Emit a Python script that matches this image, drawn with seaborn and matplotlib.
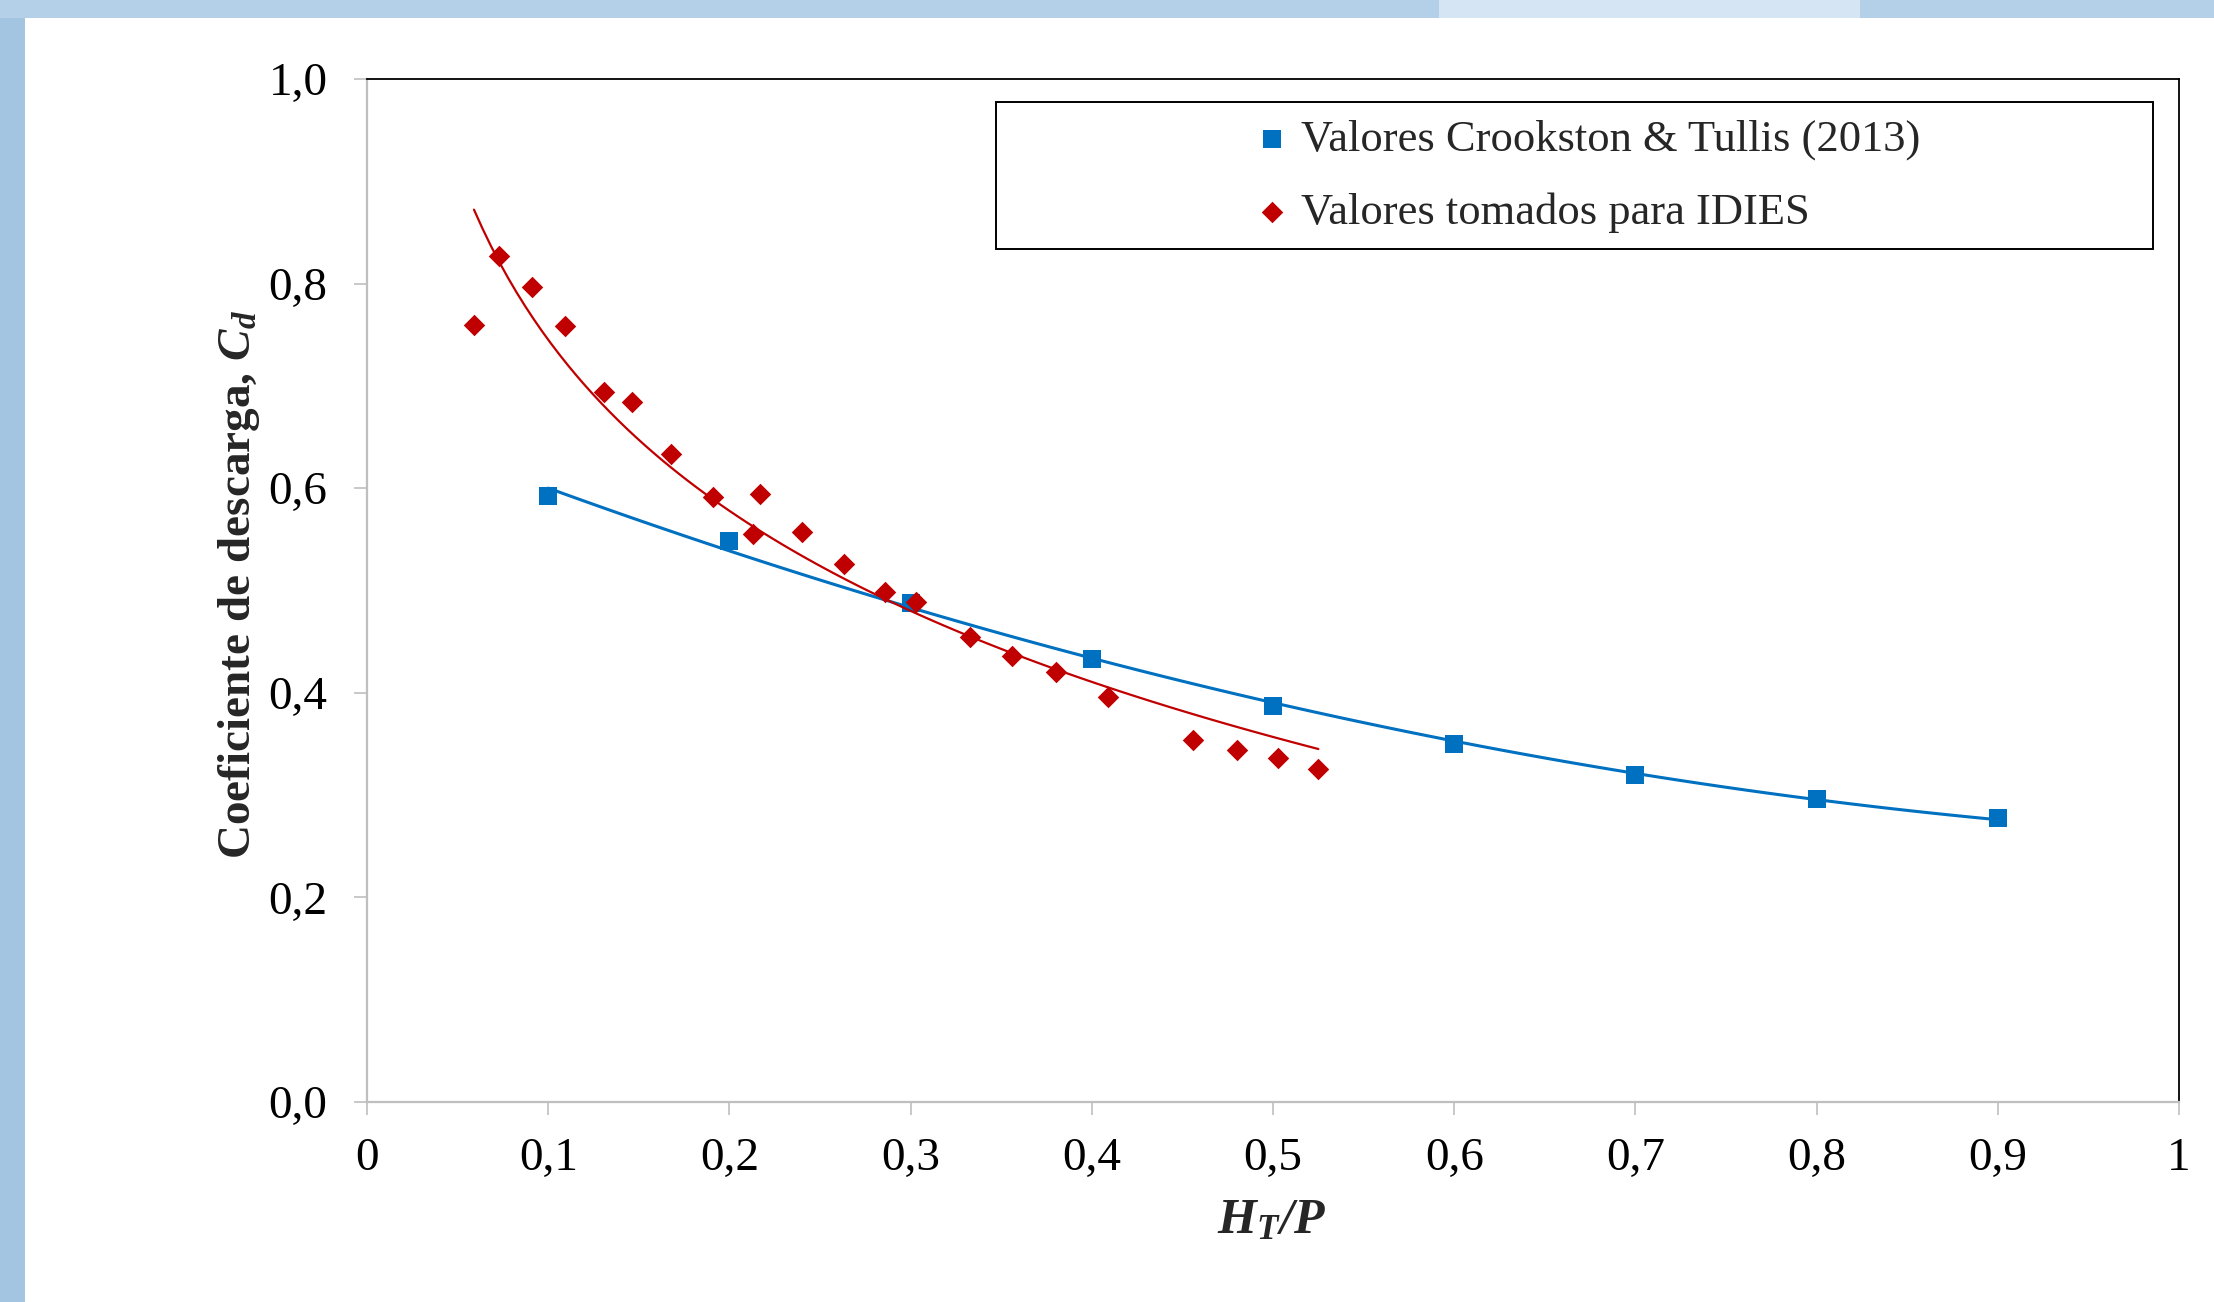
import numpy as np
import pandas as pd
import seaborn as sns
import matplotlib.pyplot as plt
from matplotlib.patches import Rectangle
from matplotlib.ticker import FuncFormatter, MultipleLocator

# Crookston & Tullis (2013) values
ct_x = [0.1, 0.2, 0.3, 0.4, 0.5, 0.6, 0.7, 0.8, 0.9]
ct_cd = [0.592, 0.548, 0.488, 0.433, 0.387, 0.350, 0.320, 0.296, 0.278]

# values taken for IDIES
id_x = [0.059, 0.073, 0.091, 0.109, 0.131, 0.146, 0.168, 0.191, 0.213, 0.217,
        0.240, 0.263, 0.286, 0.303, 0.333, 0.356, 0.380, 0.409, 0.456, 0.480,
        0.503, 0.525]
id_cd = [0.760, 0.827, 0.797, 0.759, 0.694, 0.684, 0.633, 0.591, 0.555, 0.594,
         0.557, 0.526, 0.499, 0.489, 0.455, 0.436, 0.420, 0.396, 0.354, 0.344,
         0.336, 0.326]

label_ct = "Valores Crookston & Tullis (2013)"
label_id = "Valores tomados para IDIES"

df_ct = pd.DataFrame({"x": ct_x, "cd": ct_cd})
df_id = pd.DataFrame({"x": id_x, "cd": id_cd})

sns.set_style("ticks")
plt.rcParams["font.family"] = ["Liberation Serif", "DejaVu Serif"]
plt.rcParams["mathtext.fontset"] = "custom"
plt.rcParams["mathtext.rm"] = "Liberation Serif"
plt.rcParams["mathtext.it"] = "Liberation Serif:italic"
plt.rcParams["mathtext.bf"] = "Liberation Serif:bold"
plt.rcParams["mathtext.bfit"] = "Liberation Serif:bold:italic"

blue = "#0070C0"
red = "#C00000"

fig = plt.figure(figsize=(22.14, 13.02), dpi=100, facecolor="#A3C5E1")
# white page over the blue background
fig.patches.append(Rectangle((0.0, 0.986), 1.0, 0.014, transform=fig.transFigure,
                             facecolor="#B3D0E8", edgecolor="none", zorder=-3))
fig.patches.append(Rectangle((0.65, 0.986), 0.19, 0.014, transform=fig.transFigure,
                             facecolor="#D5E5F3", edgecolor="none", zorder=-2))
fig.patches.append(Rectangle((0.0115, 0.0), 0.995, 0.986, transform=fig.transFigure,
                             facecolor="white", edgecolor="none", zorder=-1))

ax = fig.add_axes([0.1658, 0.1536, 0.8184, 0.7857])

sns.regplot(data=df_ct, x="x", y="cd", order=2, ci=None, ax=ax, label=label_ct,
            marker="s", scatter_kws={"s": 165, "color": blue, "alpha": 1,
                                     "linewidths": 0, "zorder": 3},
            line_kws={"color": blue, "lw": 2.2, "zorder": 2})
sns.regplot(data=df_id, x="x", y="cd", logx=True, ci=None, ax=ax, label=label_id,
            marker="D", scatter_kws={"s": 120, "color": red, "alpha": 1,
                                     "linewidths": 0, "zorder": 5},
            line_kws={"color": red, "lw": 1.6, "zorder": 4})

ax.set_xlim(0, 1)
ax.set_ylim(0, 1)
ax.xaxis.set_major_locator(MultipleLocator(0.1))
ax.yaxis.set_major_locator(MultipleLocator(0.2))
ax.xaxis.set_major_formatter(FuncFormatter(lambda v, p: "0" if abs(v) < 1e-9 else ("1" if abs(v - 1) < 1e-9 else f"{v:.1f}".replace(".", ","))))
ax.yaxis.set_major_formatter(FuncFormatter(lambda v, p: f"{v:.1f}".replace(".", ",")))
ax.tick_params(axis="both", direction="out", length=9.5, width=1.2, color="#BFBFBF",
               labelsize=34, labelcolor="black")
ax.tick_params(axis="y", pad=19)
ax.tick_params(axis="x", pad=16)

for side in ["left", "bottom"]:
    ax.spines[side].set_color("#BFBFBF")
    ax.spines[side].set_linewidth(1.6)
for side in ["top", "right"]:
    ax.spines[side].set_color("black")
    ax.spines[side].set_linewidth(1.3)

ax.set_xlabel(r"$\mathbfit{H_T/P}$", fontsize=36)
ax.set_ylabel(r"Coeficiente de descarga, $\mathbfit{C_d}$", fontsize=34, fontweight="bold")
ax.xaxis.set_label_coords(0.499, -0.093)
ax.yaxis.set_label_coords(-0.058, 0.506)

# legend box drawn separately, legend centered inside
ax.add_patch(Rectangle((0.347, 0.834), 0.6387, 0.1437, transform=ax.transAxes,
                       facecolor="white", edgecolor="black", lw=1.4, zorder=6))
leg = ax.legend(loc="center", bbox_to_anchor=(0.672, 0.905), frameon=False,
                fontsize=32, handletextpad=0.15, labelspacing=0.72, handlelength=1.0)
leg.set_zorder(7)

fig.savefig("out.png", dpi=100, facecolor=fig.get_facecolor())
